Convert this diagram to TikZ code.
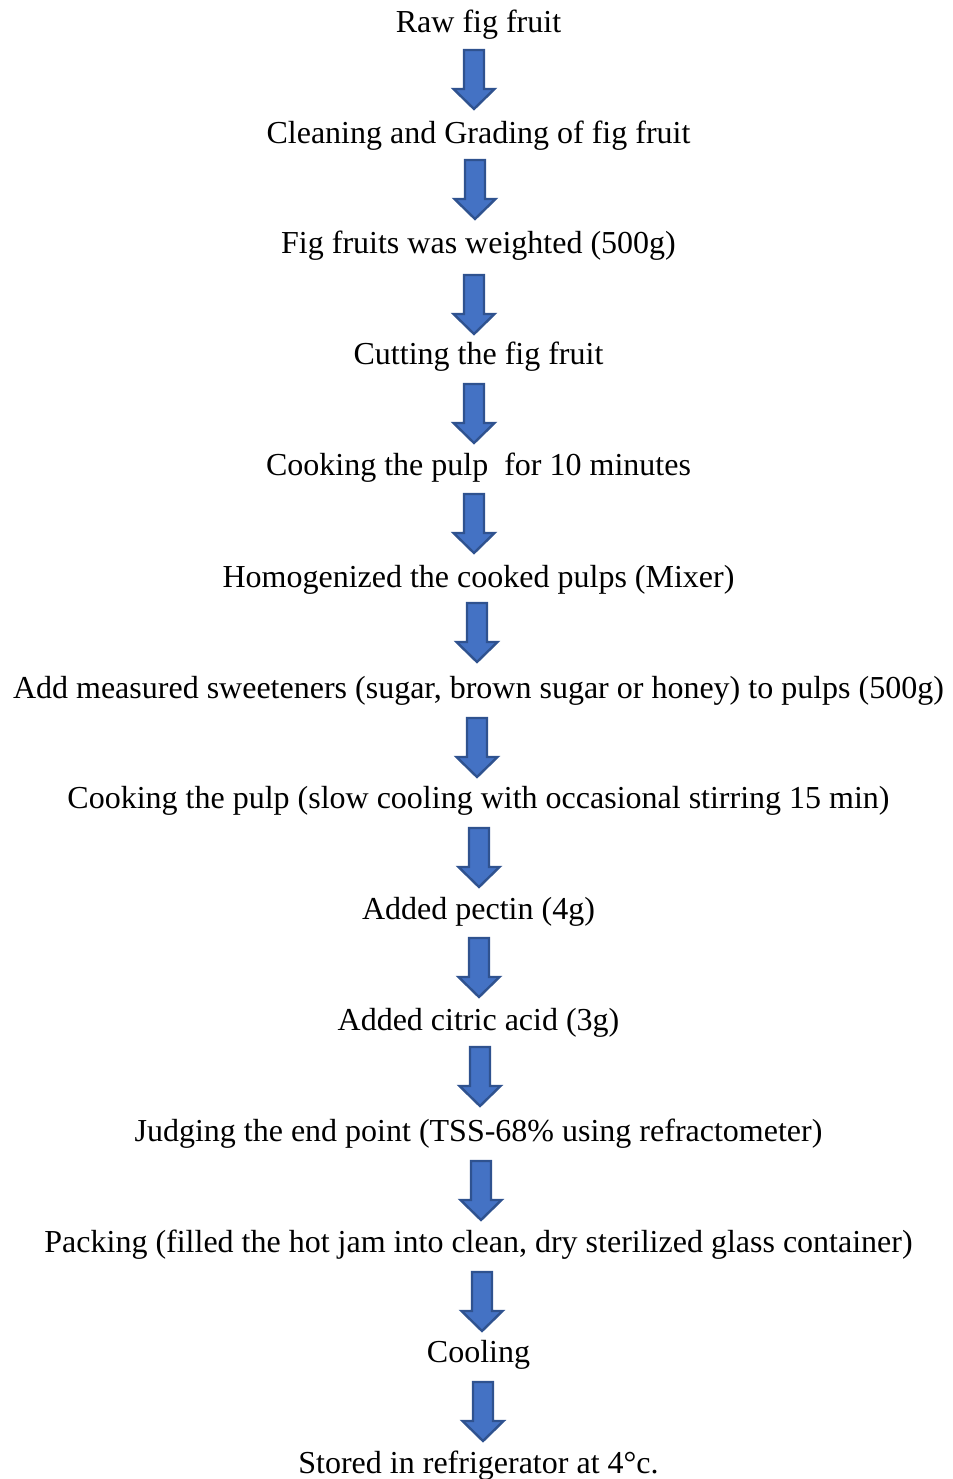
\documentclass[tikz,border=0pt]{standalone}
\usepackage{fontspec}
\setmainfont{Liberation Serif}
\usepackage{xcolor}
\usepackage{tikz}
\usetikzlibrary{positioning}
\definecolor{flowblue}{HTML}{4472C4}
\definecolor{flowedge}{HTML}{2F528F}

\begin{document}
\begin{tikzpicture}[
  x=0.375pt,y=-0.375pt,
  stepbox/.style={anchor=base,inner sep=0pt,font=\fontsize{12}{14}\selectfont},
  arr/.style={draw=flowedge,fill=flowblue,line width=0.9pt,line join=miter},
  pics/dnarrow/.style={code={
    \draw[arr] (-10,0)--(10,0)--(10,39)--(20.5,39)--(0,59)--(-20.5,39)--(-10,39)--cycle;}}]
  \useasboundingbox (0,0) rectangle (952,1479);
  % process steps
  \node[stepbox] (raw)      at (478.5,33)   {Raw fig fruit};
  \node[stepbox] (clean)    at (478.5,144)  {Cleaning and Grading of fig fruit};
  \node[stepbox] (weigh)    at (478.5,254)  {Fig fruits was weighted (500g)};
  \node[stepbox] (cut)      at (478.5,365)  {Cutting the fig fruit};
  \node[stepbox] (cook)     at (478.5,476)  {Cooking the pulp\ \ for 10 minutes};
  \node[stepbox] (homog)    at (478.5,587)  {Homogenized the cooked pulps (Mixer)};
  \node[stepbox] (sweet)    at (478.5,698)  {Add measured sweeteners (sugar, brown sugar or honey) to pulps (500g)};
  \node[stepbox] (cookslow) at (478.5,808)  {Cooking the pulp (slow cooling with occasional stirring 15 min)};
  \node[stepbox] (pectin)   at (478.5,919)  {Added pectin (4g)};
  \node[stepbox] (citric)   at (478.5,1030) {Added citric acid (3g)};
  \node[stepbox] (judge)    at (478.5,1141) {Judging the end point (TSS-68\% using refractometer)};
  \node[stepbox] (pack)     at (478.5,1252) {Packing (filled the hot jam into clean, dry sterilized glass container)};
  \node[stepbox] (cool)     at (478.5,1362) {Cooling};
  \node[stepbox] (store)    at (478.5,1473) {Stored in refrigerator at 4°c.};
  % block arrows
  \pic at (474,50)   {dnarrow};
  \pic at (475,160)  {dnarrow};
  \pic at (474,275)  {dnarrow};
  \pic at (474,384)  {dnarrow};
  \pic at (474,494)  {dnarrow};
  \pic at (477,603)  {dnarrow};
  \pic at (477,718)  {dnarrow};
  \pic at (479,828)  {dnarrow};
  \pic at (479,938)  {dnarrow};
  \pic at (480,1047) {dnarrow};
  \pic at (481,1161) {dnarrow};
  \pic at (482,1272) {dnarrow};
  \pic at (483,1382) {dnarrow};
\end{tikzpicture}
\end{document}
